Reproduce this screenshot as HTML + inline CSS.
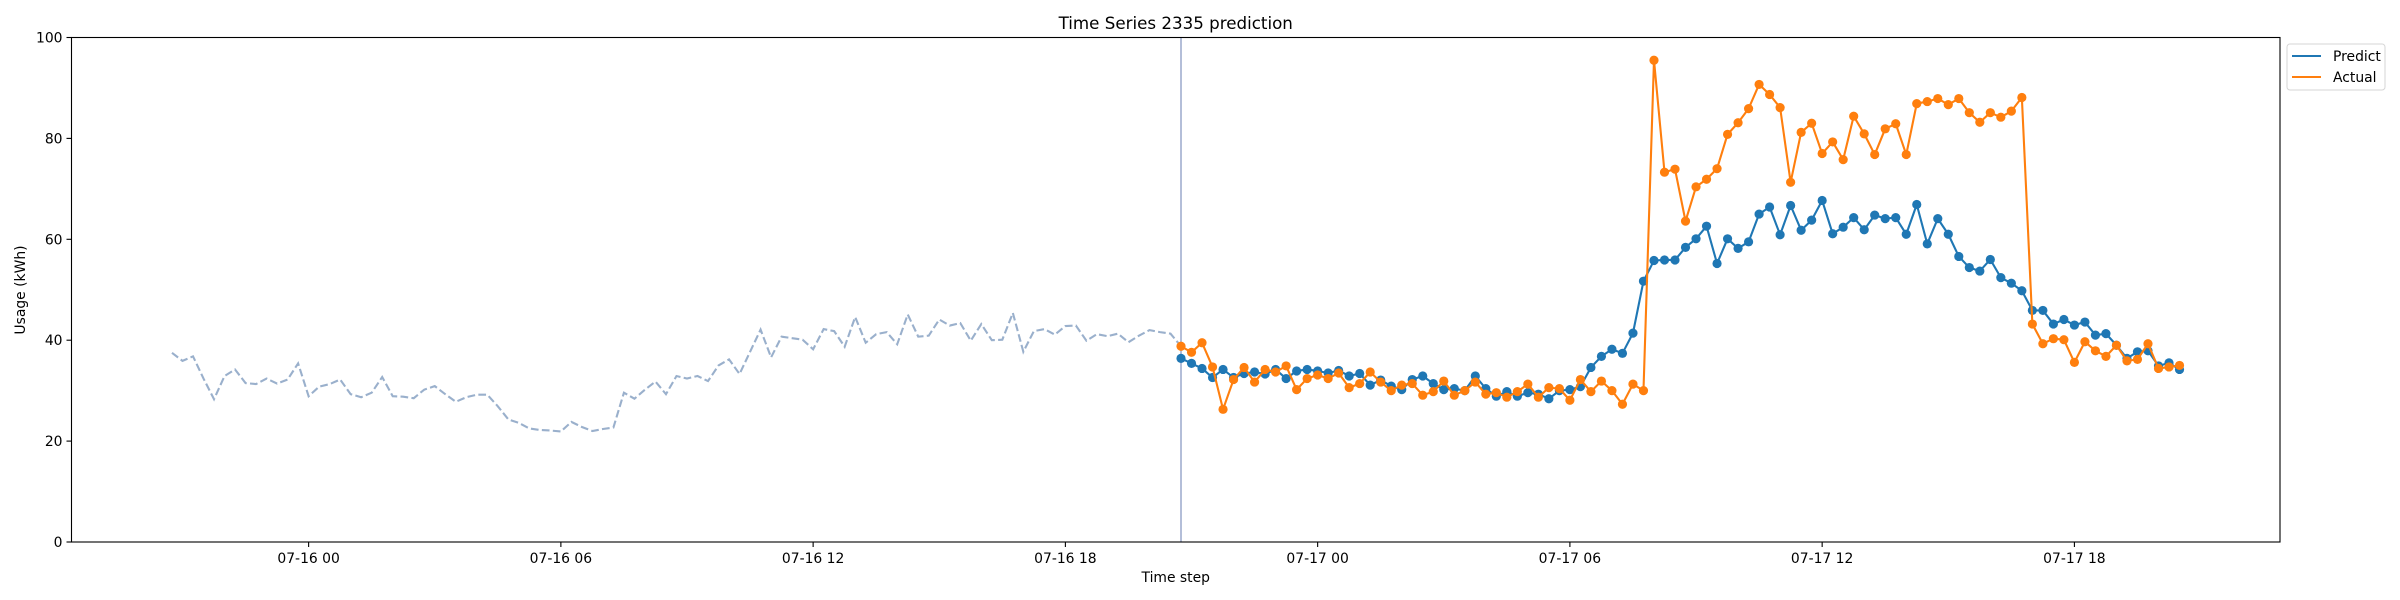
<!DOCTYPE html>
<html>
<head>
<meta charset="utf-8">
<style>
html,body{margin:0;padding:0;background:#fff;}
svg{display:block;font-family:"DejaVu Sans","Liberation Sans",sans-serif;}
</style>
</head>
<body>
<svg id="chart" width="2400" height="600" viewBox="0 0 2400 600" xmlns="http://www.w3.org/2000/svg">
  <rect x="0" y="0" width="2400" height="600" fill="#fff"/>
  <text x="1175.75" y="29" font-size="16.7" text-anchor="middle" fill="#000">Time Series 2335 prediction</text>
  <g id="plot"></g>
  <text x="1175.75" y="582" font-size="13.9" text-anchor="middle" fill="#000">Time step</text>
  <text x="0" y="0" font-size="13.9" text-anchor="middle" fill="#000" transform="translate(25,290) rotate(-90)">Usage (kWh)</text>
  <g>
    <rect x="2287" y="44" width="98" height="46" rx="3" fill="#fff" stroke="#d6d6d6" stroke-width="1"/>
    <g>
      <line x1="2292" y1="56" x2="2321" y2="56" stroke="#1f77b4" stroke-width="2.1"/>
      <text x="2333" y="61" font-size="13.9" fill="#000">Predict</text>
    </g>
    <g>
      <line x1="2292" y1="77" x2="2321" y2="77" stroke="#ff7f0e" stroke-width="2.1"/>
      <text x="2333" y="82" font-size="13.9" fill="#000">Actual</text>
    </g>
  </g>
</svg>
<script>
// ---- data ----
const historyValues = [37.5,35.9,36.8,32.4,28.3,32.9,34.2,31.5,31.3,32.4,31.4,32.2,35.4,28.9,30.8,31.3,32.2,29.3,28.7,29.6,32.7,28.9,28.8,28.5,30.2,30.9,29.3,27.8,28.7,29.2,29.2,26.9,24.3,23.6,22.5,22.2,22.1,21.9,23.8,22.8,22.0,22.4,22.7,29.6,28.4,30.2,31.8,29.3,32.9,32.4,32.9,31.9,35.0,36.2,33.3,37.7,42.1,36.6,40.7,40.4,40.1,38.2,42.2,41.8,38.7,44.6,39.5,41.2,41.6,39.2,45.1,40.7,40.9,44.1,42.9,43.4,39.9,43.2,40.0,40.1,45.4,37.7,41.8,42.2,41.1,42.8,42.9,39.9,41.2,40.8,41.3,39.6,40.9,42.0,41.6,41.3];
const predictValues = [36.4,35.4,34.4,32.6,34.2,32.6,33.4,33.7,33.3,34.2,32.4,33.9,34.2,33.9,33.5,34.0,32.9,33.4,31.1,32.1,30.9,30.2,32.2,32.9,31.4,30.2,30.4,30.0,32.9,30.4,28.9,29.8,28.9,29.6,29.3,28.4,30.0,30.2,30.8,34.6,36.8,38.2,37.4,41.4,51.7,55.8,55.9,55.9,58.4,60.1,62.6,55.2,60.1,58.2,59.5,65.0,66.4,60.9,66.7,61.8,63.8,67.7,61.1,62.4,64.3,61.9,64.8,64.1,64.3,61.0,66.9,59.1,64.1,61.0,56.6,54.4,53.7,56.0,52.4,51.3,49.8,45.9,45.9,43.2,44.1,43.0,43.6,41.0,41.3,39.0,36.4,37.7,37.9,34.9,35.5,34.2];
const actualValues = [38.8,37.6,39.5,34.7,26.3,32.2,34.6,31.7,34.2,33.7,34.9,30.2,32.4,33.1,32.4,33.5,30.6,31.4,33.7,31.7,30.0,31.1,31.4,29.1,29.8,31.9,29.1,30.0,31.7,29.3,29.6,28.7,29.8,31.3,28.7,30.6,30.4,28.1,32.2,29.8,31.9,30.0,27.3,31.3,30.0,95.5,73.3,73.9,63.6,70.4,71.9,74.0,80.8,83.1,85.9,90.7,88.7,86.1,71.3,81.2,83.0,77.0,79.3,75.8,84.4,80.9,76.8,81.9,82.9,76.8,86.9,87.3,87.9,86.7,87.9,85.1,83.2,85.1,84.2,85.4,88.1,43.2,39.3,40.3,40.1,35.6,39.7,37.9,36.8,39.0,35.9,36.2,39.3,34.4,34.7,35.0];
const historyStartHour = -3.25;   // hours relative to 07-16 00:00
const forecastStartHour = 20.75;
const stepHours = 0.25;
const xTickHours = [0, 6, 12, 18, 24, 30, 36, 42];
const xTickLabels = ["07-16 00","07-16 06","07-16 12","07-16 18","07-17 00","07-17 06","07-17 12","07-17 18"];
const yTicks = [0, 20, 40, 60, 80, 100];

// ---- axes ----
const L = 71.5, R = 2280, T = 37.5, B = 542;
const xMin = -5.64, xMax = 46.89, yMin = 0, yMax = 100;
function xs(h){ return L + (h - xMin) / (xMax - xMin) * (R - L); }
function ys(v){ return B - (v - yMin) / (yMax - yMin) * (B - T); }

const NS = "http://www.w3.org/2000/svg";
const plot = document.getElementById("plot");
function mk(tag, attrs, parent){
  const e = document.createElementNS(NS, tag);
  for (const k in attrs) e.setAttribute(k, attrs[k]);
  (parent || plot).appendChild(e);
  return e;
}

// history dashed line (continues to first actual)
const hPts = historyValues.map((v,i)=>[xs(historyStartHour + i*stepHours), ys(v)]);
hPts.push([xs(forecastStartHour), ys(actualValues[0])]);
const hLine = mk("polyline", {points: hPts.map(p=>p.join(",")).join(" "), fill:"none", stroke:"#9ab0cc", "stroke-width":2.1, "stroke-dasharray":"7.7,3.3"});



// forecast start vertical line
const vx = xs(forecastStartHour);
const vLine = mk("line", {x1:vx, y1:T, x2:vx, y2:B, stroke:"#9aa8cc", "stroke-width":1.5});



function series(values, color, name){
  const g = mk("g", {});
  
  
  const pts = values.map((v,i)=>[xs(forecastStartHour + i*stepHours), ys(v)]);
  const ln = mk("polyline", {points: pts.map(p=>p.join(",")).join(" "), fill:"none", stroke:color, "stroke-width":2.1, "stroke-linejoin":"round"}, g);
  
  
  pts.forEach(p=>{
    const c = mk("circle", {cx:p[0], cy:p[1], r:4.6, fill:color}, g);
    
    
  });
}
series(predictValues, "#1f77b4", "predict");
series(actualValues, "#ff7f0e", "actual");

// spines
const frame = mk("rect", {x:L, y:T, width:R-L, height:B-T, fill:"none", stroke:"#000", "stroke-width":1.1});



// x ticks
xTickHours.forEach((h,i)=>{
  const x = xs(h);
  const t = mk("line", {x1:x, y1:B, x2:x, y2:B+5, stroke:"#000", "stroke-width":1.1});
  
  
  const lb = mk("text", {x:x, y:B+21, "font-size":13.9, "text-anchor":"middle", fill:"#000"});
  lb.textContent = xTickLabels[i];
  
  
});
// y ticks
yTicks.forEach(v=>{
  const y = ys(v);
  const t = mk("line", {x1:L-5, y1:y, x2:L, y2:y, stroke:"#000", "stroke-width":1.1});
  
  
  const lb = mk("text", {x:L-9, y:y+5, "font-size":13.9, "text-anchor":"end", fill:"#000"});
  lb.textContent = String(v);
  
  
});
</script>
</body>
</html>
